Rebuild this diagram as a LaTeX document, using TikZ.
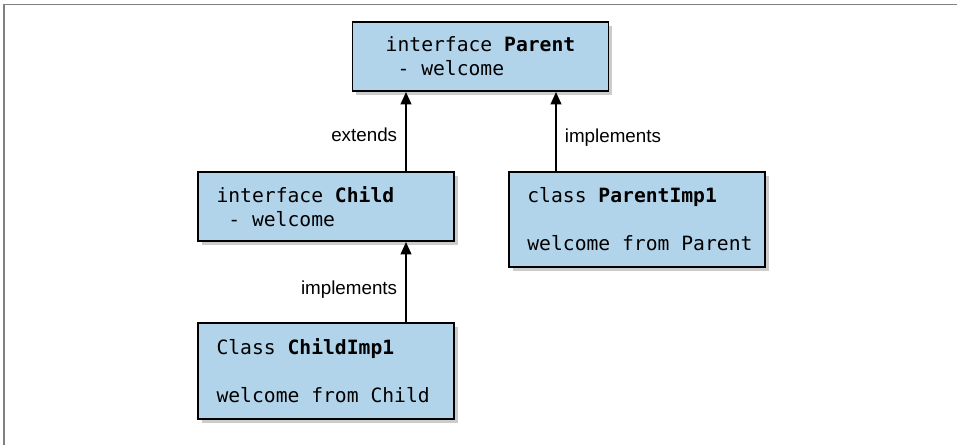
\documentclass[tikz,border=0pt]{standalone}
\usepackage{fontspec}
\setmonofont{DejaVu Sans Mono}
\setsansfont{Liberation Sans}
\usepackage{xcolor}
\usetikzlibrary{arrows.meta, positioning, shadows}

\definecolor{boxblue}{RGB}{178,212,235}
\newcommand{\cellsp}{\hspace*{0.602em}}

\begin{document}
\begin{tikzpicture}[
    x=0.02cm, y=-0.02cm,
    box/.style={rectangle, draw, line width=1.1pt, fill=boxblue,
        minimum width=5.12cm, minimum height=1.38cm, align=left,
        font=\ttfamily\fontsize{11.2}{13.6}\selectfont,
        drop shadow={shadow xshift=2.2pt, shadow yshift=-2.2pt, opacity=0.4}},
    classbox/.style={box, text width=4.92cm, inner xsep=0.1cm,
        execute at begin node={\leftskip=0.27cm}},
    lbl/.style={font=\sffamily\fontsize{10.7}{12}\selectfont, inner sep=4.5pt},
    arrow/.style={-{Triangle[length=7pt, width=6pt]}, line width=1.1pt}
]
\useasboundingbox (0,0) rectangle (957,445);
\draw[gray, line width=0.9pt] (4,445) -- (4,4.5) -- (957,4.5);

\node[box] (parent) at (480.5,56.5)
    {\mbox{interface\cellsp\textbf{Parent}}\\\mbox{\cellsp-\cellsp welcome}};
\node[classbox] (child) at (326,206.5)
    {\mbox{interface\cellsp\textbf{Child}}\\\mbox{\cellsp-\cellsp welcome}};
\node[classbox, minimum height=1.9cm, right=1.06cm of child.north east, anchor=north west]
    (parentimp) {\mbox{class\cellsp\textbf{ParentImp1}}\\[13.6pt]\mbox{welcome\cellsp from\cellsp Parent}};
\node[classbox, minimum height=1.92cm, below=1.6cm of child]
    (childimp) {\mbox{Class\cellsp\textbf{ChildImp1}}\\[13.6pt]\mbox{welcome\cellsp from\cellsp Child}};

\coordinate (lx) at (406,0);
\coordinate (rx) at (556,0);

\draw[arrow] (child.north -| lx) -- node[lbl, left, pos=.46] (lblext) {extends} (parent.south -| lx);
\draw[arrow] (parentimp.north -| rx) -- node[lbl, right, pos=.42] (lblpimp) {implements} (parent.south -| rx);
\draw[arrow] (childimp.north -| lx) -- node[lbl, left, pos=.4] (lblcimp) {implements} (child.south -| lx);
\end{tikzpicture}
\end{document}
